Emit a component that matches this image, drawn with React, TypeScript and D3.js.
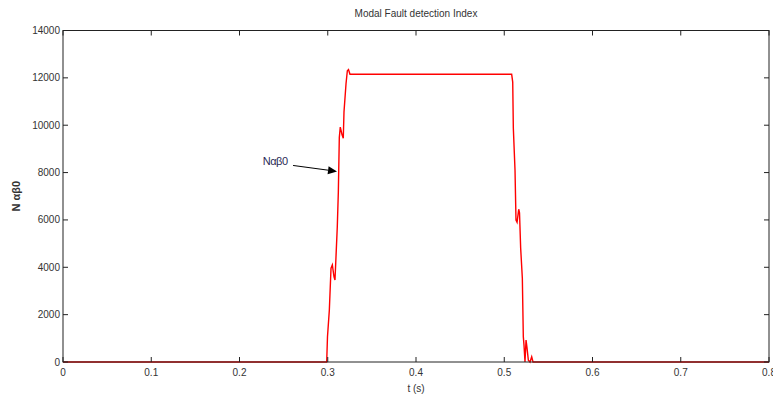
import React from "react";
import * as d3 from "d3";

const times: number[] = [
  0, 0.2988, 0.2997, 0.3018, 0.3037, 0.3052, 0.3071, 0.3082, 0.3108, 0.312,
  0.3131, 0.3142, 0.3162, 0.3176, 0.3184, 0.3207, 0.3222, 0.3235, 0.3252,
  0.5084, 0.5096, 0.5103, 0.5122, 0.5133, 0.5145, 0.5164, 0.5173, 0.5186,
  0.5205, 0.5216, 0.5224, 0.5235, 0.5247, 0.5258, 0.5273, 0.5292, 0.5311,
  0.5326, 0.5348, 0.8,
];
const values: number[] = [
  0, 0, 1070, 2190, 3960, 4100, 3600, 3460, 5700, 7180,
  9480, 9920, 9600, 9450, 10560, 11750, 12300, 12350, 12150,
  12150, 11820, 9870, 8100, 5990, 5900, 6450, 6300, 4810,
  3540, 1070, 700, 0, 930, 600, 80, 0, 220,
  0, 0, 0,
];
const xTicks: number[] = [0, 0.1, 0.2, 0.3, 0.4, 0.5, 0.6, 0.7, 0.8];
const yTicks: number[] = [0, 2000, 4000, 6000, 8000, 10000, 12000, 14000];
const title = "Modal Fault detection Index";
const xLabel = "t (s)";
const yLabel = "N αβ0";
const annotationText = "Nαβ0";
const annotationFrom: [number, number] = [0.2607, 8300];
const annotationTo: [number, number] = [0.3105, 8050];
const annotationTextPos: [number, number] = [0.2264, 8480];

export default function App() {
  const W = 773, H = 399;
  const L = 63, R = 769, T = 30.5, B = 362;
  const x = d3.scaleLinear().domain([0, 0.8]).range([L, R]);
  const y = d3.scaleLinear().domain([0, 14000]).range([B, T]);
  const line = d3
    .line<number>()
    .x((_, i) => x(times[i]))
    .y((d) => y(d));
  const font = "'Liberation Sans', Arial, sans-serif";
  const tc = "#333";
  const tl = 5;

  const ax1 = x(annotationFrom[0]), ay1 = y(annotationFrom[1]);
  const ax2 = x(annotationTo[0]), ay2 = y(annotationTo[1]);
  const ang = Math.atan2(ay2 - ay1, ax2 - ax1);
  const hl = 9, hw = 4;
  const bx = ax2 - hl * Math.cos(ang), by = ay2 - hl * Math.sin(ang);
  const head = [
    [ax2, ay2],
    [bx + hw * Math.sin(ang), by - hw * Math.cos(ang)],
    [bx - hw * Math.sin(ang), by + hw * Math.cos(ang)],
  ];

  return (
    <svg
      width={W}
      height={H}
      style={{ position: "absolute", left: 0, top: 0, background: "#fff" }}
      fontFamily={font}
    >
      <rect x={0} y={0} width={W} height={H} fill="#fff" />
      <path d={line(values) || ""} fill="none" stroke="#ff0000" strokeWidth={1.4} />
      <rect x={L} y={T} width={R - L} height={B - T} fill="none" stroke="#222" strokeWidth={1} />
      {xTicks.map((t) => (
        <g key={"x" + t}>
          <line x1={x(t)} x2={x(t)} y1={B} y2={B - tl} stroke="#222" />
          <line x1={x(t)} x2={x(t)} y1={T} y2={T + tl} stroke="#222" />
          <text x={x(t)} y={B + 14} fontSize={10} fill={tc} textAnchor="middle">
            {String(t)}
          </text>
        </g>
      ))}
      {yTicks.map((v) => (
        <g key={"y" + v}>
          <line x1={L} x2={L + tl} y1={y(v)} y2={y(v)} stroke="#222" />
          <line x1={R} x2={R - tl} y1={y(v)} y2={y(v)} stroke="#222" />
          <text x={L - 3} y={y(v) + 3.5} fontSize={10} fill={tc} textAnchor="end">
            {String(v)}
          </text>
        </g>
      ))}
      <text x={(L + R) / 2} y={17} fontSize={10} fill={tc} textAnchor="middle">
        {title}
      </text>
      <text x={(L + R) / 2} y={392} fontSize={10} fill={tc} textAnchor="middle">
        {xLabel}
      </text>
      <text
        transform={`translate(20,${(T + B) / 2}) rotate(-90)`}
        fontSize={11}
        fontWeight="bold"
        fill={tc}
        textAnchor="middle"
      >
        {yLabel}
      </text>
      <text
        x={x(annotationTextPos[0])}
        y={y(annotationTextPos[1]) + 4}
        fontSize={11}
        fill="#2a2a55"
        letterSpacing={-0.5}
      >
        {annotationText}
      </text>
      <line x1={ax1} y1={ay1} x2={bx} y2={by} stroke="#000" strokeWidth={1} />
      <polygon points={head.map((p) => p.join(",")).join(" ")} fill="#000" />
    </svg>
  );
}
